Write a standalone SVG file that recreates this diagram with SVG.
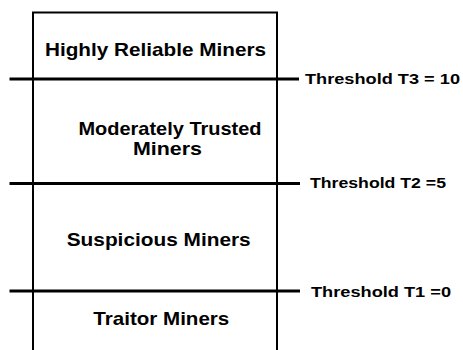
<svg xmlns="http://www.w3.org/2000/svg" width="463" height="350" viewBox="0 0 463 350">
<style>
.t{font-family:"Liberation Sans",Arial,sans-serif;font-weight:bold;fill:#000}
.b{font-size:19px}
.th{font-size:15.5px}
.box{fill:none;stroke:#000;stroke-width:2}
.ln{stroke:#000;stroke-width:3}
</style>
<rect width="463" height="350" fill="#fff"/>
<g id="box">
<path class="box" d="M33 350 V12.5 H277 V350"/>
</g>
<g id="connectors">
<line class="ln" x1="9.5" y1="79" x2="299" y2="79"/>
<line class="ln" x1="9.5" y1="183.5" x2="300" y2="183.5"/>
<line class="ln" x1="9.5" y1="291" x2="300" y2="291"/>
</g>
<g id="highly">
<text class="t b" x="45" y="56" textLength="221" lengthAdjust="spacingAndGlyphs">Highly Reliable Miners</text>
</g>
<g id="moderately">
<text class="t b" x="78.5" y="135" textLength="183" lengthAdjust="spacingAndGlyphs">Moderately Trusted</text>
<text class="t b" x="133" y="154.5" textLength="69" lengthAdjust="spacingAndGlyphs">Miners</text>
</g>
<g id="suspicious">
<text class="t b" x="66.7" y="245.7" textLength="184" lengthAdjust="spacingAndGlyphs">Suspicious Miners</text>
</g>
<g id="traitor">
<text class="t b" x="93.3" y="325" textLength="136" lengthAdjust="spacingAndGlyphs">Traitor Miners</text>
</g>
<g id="t3">
<text class="t th" x="305" y="84" textLength="155" lengthAdjust="spacingAndGlyphs">Threshold T3 = 10</text>
</g>
<g id="t2">
<text class="t th" x="310" y="187.5" textLength="136" lengthAdjust="spacingAndGlyphs">Threshold T2 =5</text>
</g>
<g id="t1">
<text class="t th" x="311" y="297.3" textLength="140" lengthAdjust="spacingAndGlyphs">Threshold T1 =0</text>
</g>
</svg>
